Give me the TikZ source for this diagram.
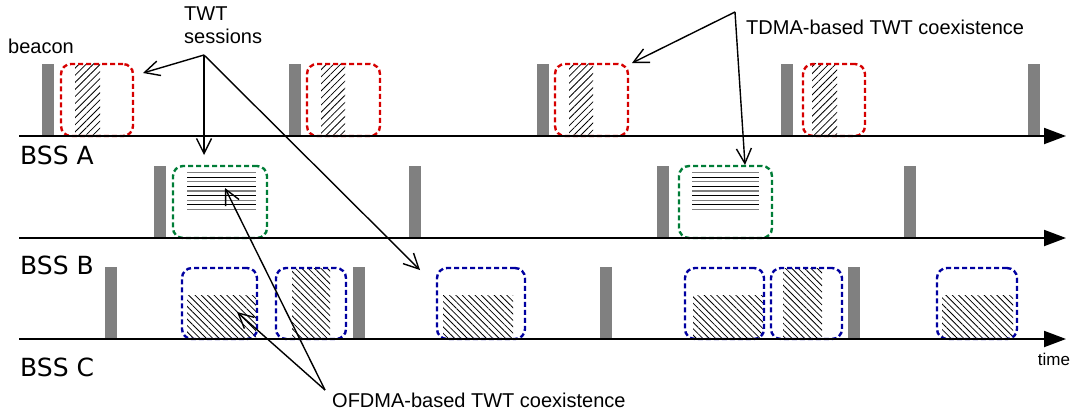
\documentclass[tikz,border=0pt]{standalone}
\usepackage{fontspec}
\setmainfont{Liberation Sans}
\newfontfamily\bssfont{DejaVu Sans}
\usetikzlibrary{arrows.meta,patterns.meta}

\definecolor{bssred}{RGB}{214,0,0}
\definecolor{bssgreen}{RGB}{0,125,55}
\definecolor{bssblue}{RGB}{0,0,160}
\definecolor{beacongray}{RGB}{128,128,128}

\begin{document}
\begin{tikzpicture}[x=1pt,y=-1pt,
  axis/.style={line width=2pt,-{Triangle[length=22pt,width=16pt]}},
  beacon/.style={fill=beacongray},
  twtbox/.style={draw=#1,line width=2.4pt,dash pattern=on 5pt off 3pt,
    rounded corners=10pt,anchor=south west,inner sep=0pt,outer sep=0pt},
  hatchA/.style={pattern={Lines[angle=45,distance=5pt,line width=0.8pt]}},
  hatchC/.style={pattern={Lines[angle=-45,distance=4.5pt,line width=0.8pt]}},
  pointer/.style={line width=1.4pt,-{Straight Barb[length=15pt,width=15pt]}},
  label/.style={font=\fontsize{20}{23}\selectfont,inner sep=0pt},
  bss/.style={font=\bssfont\fontsize{25}{30}\selectfont,inner sep=0pt}]
\useasboundingbox (0,0) rectangle (1073,412);

%beacons
\foreach \x in {42,289,537,781,1028} \fill[beacon] (\x,64) rectangle ++(12,72);
\foreach \x in {154,409,657,904} \fill[beacon] (\x,166) rectangle ++(12,72);
\foreach \x in {105,353,600,848} \fill[beacon] (\x,267) rectangle ++(12,72);

%BSS A sessions
\foreach \l/\r/\hl/\hr [count=\i] in {61/133/75/100,307/380/321/345,555/628/569/593,803/865/812/837}{
  \fill[hatchA] (\hl,64) rectangle (\hr,136);
  \node[twtbox=bssred,minimum width=\r-\l,minimum height=72] (a\i) at (\l,136) {};
}

%BSS B sessions
\foreach \l/\r/\hl/\hr [count=\i] in {173/267/187/256,679/772/692/759}{
  \foreach \k in {0,2,...,8}
    \draw[beacongray,line width=1.3pt] (\hl,172.6+4.6*\k) -- (\hr,172.6+4.6*\k);
  \foreach \k in {1,3,...,7}
    \draw[black,line width=1.3pt] (\hl,172.6+4.6*\k) -- (\hr,172.6+4.6*\k);
  \node[twtbox=bssgreen,minimum width=\r-\l,minimum height=72] (b\i) at (\l,238) {};
}

%BSS C sessions
\foreach \l/\r/\hl/\hr/\ht [count=\i] in {182/257/187/256/295,276/346/292/330/268,437/525/443/513/295,685/764/693/763/295,771/842/783/822/268,937/1017/942/1013/295}{
  \fill[hatchC] (\hl,\ht) rectangle (\hr,339);
  \node[twtbox=bssblue,minimum width=\r-\l,minimum height=71] (c\i) at (\l,339) {};
}

%time axes
\draw[axis] (19,136) -- (1066,136);
\draw[axis] (19,238) -- (1066,238);
\draw[axis] (19,339) -- (1066,339);

\node[bss,anchor=west] (bssA) at (20,155.5) {BSS A};
\node[bss,anchor=west] (bssB) at (20,265.5) {BSS B};
\node[bss,anchor=west] (bssC) at (20,367.5) {BSS C};
\node[label,font=\fontsize{17}{20}\selectfont] (time) at (1054,359) {time};
\node[label] (beacon) at (41,46) {beacon};

%annotations
\node[label,align=left,anchor=north west] (twt) at (184,7) {TWT\\sessions};
\node[label,anchor=west] (tdma) at (746,27) {TDMA-based TWT coexistence};
\node[label,anchor=west] (ofdma) at (332,400) {OFDMA-based TWT coexistence};

\coordinate (T) at (204,55);
\coordinate (D) at (735,12);
\coordinate (O) at (325,390);
\coordinate (twtA) at (143,73);
\coordinate (twtB) at (204,155);
\coordinate (twtC) at (420,270);
\coordinate (tdmaA) at (632,63);
\coordinate (tdmaB) at (745,165);
\coordinate (ofdmaB) at (225,188);
\coordinate (ofdmaC) at (237,312);

\draw[pointer] (T) -- (twtA);
\draw[pointer] (T) -- (twtB);
\draw[pointer] (T) -- (twtC);
\draw[pointer] (D) -- (tdmaA);
\draw[pointer] (D) -- (tdmaB);
\draw[pointer] (O) -- (ofdmaB);
\draw[pointer] (O) -- (ofdmaC);

\end{tikzpicture}
\end{document}
